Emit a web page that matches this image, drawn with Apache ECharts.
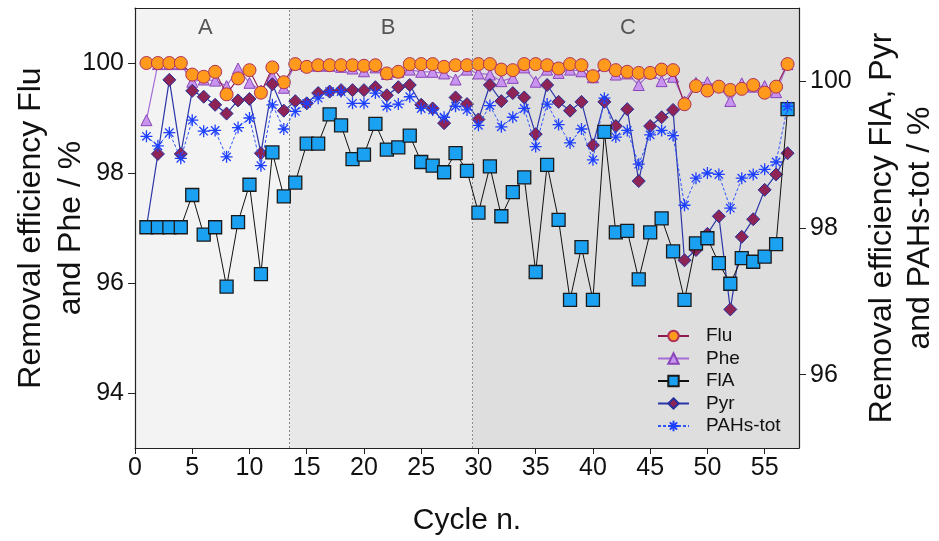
<!DOCTYPE html>
<html>
<head>
<meta charset="utf-8">
<title>Removal efficiency</title>
<script src="https://cdn.jsdelivr.net/npm/echarts@6.0.0/dist/echarts.min.js"></script>
<style>
    html, body { margin: 0; padding: 0; background: #fff; }
    #removal_chart { width: 939px; height: 541px; }
</style>
</head>
<body>
<div id="removal_chart"></div>
<script>
// cycle numbers 1..57
var cycles = [1,2,3,4,5,6,7,8,9,10,11,12,13,14,15,16,17,18,19,20,21,22,23,24,25,26,27,28,29,
    30,31,32,33,34,35,36,37,38,39,40,41,42,43,44,45,46,47,48,49,50,51,52,53,54,55,56,57];

// left axis series
var fluData = [100,100,100,100,99.79,99.75,99.84,99.43,99.72,99.87,99.46,99.92,99.65,99.98,99.93,99.96,99.96,99.96,99.96,
    99.95,99.96,99.81,99.84,99.98,99.98,99.98,99.93,99.96,99.96,99.98,99.98,99.88,99.87,99.98,99.98,99.96,99.90,99.98,
    99.96,99.76,99.96,99.87,99.84,99.82,99.82,99.88,99.87,99.25,99.58,99.50,99.57,99.51,99.53,99.60,99.46,99.57,99.98];
var pheData = [98.96,99.98,99.98,99.98,99.66,99.70,99.68,99.58,99.90,99.64,99.50,99.76,99.55,99.98,99.95,99.95,99.95,99.93,99.90,
    99.85,99.92,99.80,99.84,99.88,99.84,99.84,99.81,99.70,99.88,99.81,99.79,99.67,99.73,99.92,99.66,99.88,99.82,99.88,
    99.85,99.74,99.96,99.79,99.81,99.60,99.82,99.67,99.75,99.30,99.64,99.65,99.58,99.31,99.63,99.57,99.58,99.47,99.98];

// right axis series
var flaData = [98.01,98.01,98.01,98.01,98.45,97.91,98.01,97.20,98.08,98.59,97.37,99.03,98.43,98.62,99.15,99.15,99.55,99.40,98.94,
    99.00,99.42,99.07,99.10,99.26,98.90,98.85,98.76,99.02,98.78,98.21,98.84,98.16,98.49,98.69,97.40,98.86,98.11,97.02,
    97.74,97.02,99.31,97.94,97.96,97.30,97.94,98.13,97.68,97.02,97.79,97.86,97.52,97.24,97.59,97.54,97.61,97.78,99.62];
var pyrData = [98.01,99.01,100.02,99.01,99.87,99.79,99.68,99.56,99.74,99.76,99.02,99.96,99.60,99.73,99.70,99.84,99.86,99.88,99.88,
    99.88,99.92,99.81,99.92,99.95,99.68,99.63,99.43,99.78,99.69,99.48,99.95,99.73,99.84,99.78,99.28,99.95,99.72,99.60,
    99.72,99.13,99.72,99.39,99.62,98.64,99.39,99.51,99.61,97.56,97.70,97.92,98.16,96.89,97.88,98.12,98.52,98.73,99.02];
var pahData = [99.25,99.12,99.30,98.95,99.47,99.32,99.33,98.97,99.37,99.50,98.85,99.68,99.35,99.59,99.70,99.77,99.86,99.86,99.70,
    99.70,99.84,99.66,99.69,99.79,99.63,99.61,99.51,99.66,99.61,99.40,99.67,99.38,99.51,99.63,99.11,99.69,99.41,99.16,
    99.35,98.93,99.77,99.24,99.33,98.87,99.27,99.33,99.26,98.31,98.68,98.75,98.73,98.27,98.68,98.73,98.80,98.90,99.66];

// phases and their cycle bounds
var phaseNames = ['A', 'B', 'C'];
var phaseBounds = [0, 13.5, 29.5, 58];
var phaseColors = ['#f3f3f3', '#e8e8e8', '#dedede'];

var xTicks = [0,5,10,15,20,25,30,35,40,45,50,55];
var leftTicks = [94,96,98,100];
var rightTicks = [96,98,100];

var fontName = 'Liberation Sans, Arial, Helvetica, sans-serif';

function pairs(values) {
    var out = [];
    for (var i = 0; i < values.length; i++) {
        out.push([cycles[i], values[i]]);
    }
    return out;
}

function axisLine() {
    // onZero off, otherwise the right axis snaps to x = 0
    return {show: true, onZero: false, lineStyle: {color: '#222', width: 1.2}};
}

function initRemovalChart() {
    var myChart = echarts.init(document.getElementById('removal_chart'));

    var areaData = [];
    var dividers = [];
    var labelOffsets = [[-7, 0], [7, 0], [-8, 0]];
    for (var i = 0; i < phaseNames.length; i++) {
        areaData.push([
            {name: phaseNames[i], xAxis: phaseBounds[i], itemStyle: {color: phaseColors[i]},
                label: {offset: labelOffsets[i]}},
            {xAxis: phaseBounds[i + 1]}
        ]);
        if (i > 0) dividers.push({xAxis: phaseBounds[i]});
    }

    var asterisk = 'path://M10,0 L10,20 M0,10 L20,10 M3,3 L17,17 M3,17 L17,3';

    var option = {
        animation: false,
        textStyle: {fontFamily: fontName},
        grid: {left: 135, right: 140, top: 8, bottom: 93, containLabel: false, outerBoundsMode: 'none'},
        legend: {
            data: ['Flu', 'Phe', 'FlA', 'Pyr', 'PAHs-tot'],
            orient: 'vertical',
            left: 652, top: 321,
            itemWidth: 31, itemHeight: 13, itemGap: 2.5,
            textStyle: {fontSize: 19, lineHeight: 20, color: '#111', fontFamily: fontName, padding: [0, 0, 0, 12]}
        },
        xAxis: [
            {
                type: 'value', min: 0, max: 58, z: 10,
                name: 'Cycle n.', nameLocation: 'middle', nameGap: 58, nameMoveOverlap: false,
                nameTextStyle: {fontSize: 30, color: '#111', fontFamily: fontName},
                axisLine: axisLine(),
                axisTick: {show: true, inside: false, length: 6, customValues: xTicks, lineStyle: {color: '#222'}},
                axisLabel: {customValues: xTicks, fontSize: 25, color: '#111', margin: 8, fontFamily: fontName},
                splitLine: {show: false}
            },
            {
                type: 'value', min: 0, max: 58, position: 'top', z: 10,
                axisLine: axisLine(),
                axisTick: {show: false}, axisLabel: {show: false}, splitLine: {show: false}
            }
        ],
        yAxis: [
            {
                type: 'value', min: 93, max: 101, position: 'left', z: 10,
                name: 'Removal efficiency Flu\nand Phe / %', nameLocation: 'middle', nameGap: 44, nameMoveOverlap: false,
                nameTextStyle: {fontSize: 32, color: '#111', lineHeight: 40, fontFamily: fontName},
                axisLine: axisLine(),
                axisTick: {show: true, inside: false, length: 7, customValues: leftTicks, lineStyle: {color: '#222'}},
                axisLabel: {customValues: leftTicks, fontSize: 25, color: '#111', margin: 11, fontFamily: fontName},
                splitLine: {show: false}
            },
            {
                type: 'value', min: 95, max: 101, position: 'right', z: 10,
                name: 'Removal efficiency FlA, Pyr\nand PAHs-tot / %', nameLocation: 'middle', nameGap: 64, nameMoveOverlap: false,
                nameRotate: 90,
                nameTextStyle: {fontSize: 32, color: '#111', lineHeight: 38, fontFamily: fontName},
                axisLine: axisLine(),
                axisTick: {show: true, inside: false, length: 7, customValues: rightTicks, lineStyle: {color: '#222'}},
                axisLabel: {customValues: rightTicks, fontSize: 25, color: '#111', margin: 11, fontFamily: fontName},
                splitLine: {show: false}
            }
        ],
        series: [
            {
                name: 'phases', type: 'line', data: [], z: 1, silent: true,
                markArea: {
                    silent: true,
                    label: {show: true, position: 'insideTop', distance: 9, fontSize: 22, color: '#555', fontFamily: fontName},
                    data: areaData
                },
                markLine: {
                    silent: true, symbol: 'none',
                    label: {show: false},
                    lineStyle: {color: '#8a8a8a', type: [2, 2], width: 1},
                    data: dividers
                }
            },
            {
                name: 'Phe', type: 'line', yAxisIndex: 0, z: 2,
                data: pairs(pheData),
                symbol: 'triangle', symbolSize: 11,
                lineStyle: {color: '#a56cd6', width: 1.2},
                itemStyle: {color: '#c894f0', borderColor: '#8a45b8', borderWidth: 1}
            },
            {
                name: 'Flu', type: 'line', yAxisIndex: 0, z: 3,
                data: pairs(fluData),
                symbol: 'circle', symbolSize: 13,
                lineStyle: {color: '#8e1b4f', width: 1.1},
                itemStyle: {color: '#ff9a1c', borderColor: '#b0305a', borderWidth: 1}
            },
            {
                name: 'Pyr', type: 'line', yAxisIndex: 1, z: 4,
                data: pairs(pyrData),
                symbol: 'diamond', symbolSize: 13,
                lineStyle: {color: '#2a35a8', width: 1.2},
                itemStyle: {color: '#8e2456', borderColor: '#25309a', borderWidth: 1}
            },
            {
                name: 'FlA', type: 'line', yAxisIndex: 1, z: 5,
                data: pairs(flaData),
                symbol: 'rect', symbolSize: 13,
                lineStyle: {color: '#111', width: 1},
                itemStyle: {color: '#1ba1f2', borderColor: '#1a1a1a', borderWidth: 1.3}
            },
            {
                name: 'PAHs-tot', type: 'line', yAxisIndex: 1, z: 6,
                data: pairs(pahData),
                symbol: asterisk, symbolSize: 12,
                lineStyle: {color: '#2f55ff', width: 1, type: [3, 2]},
                itemStyle: {color: '#1e40ff', borderColor: '#1e40ff', borderWidth: 1.3}
            }
        ]
    };

    myChart.setOption(option);
}

initRemovalChart();
</script>
</body>
</html>
